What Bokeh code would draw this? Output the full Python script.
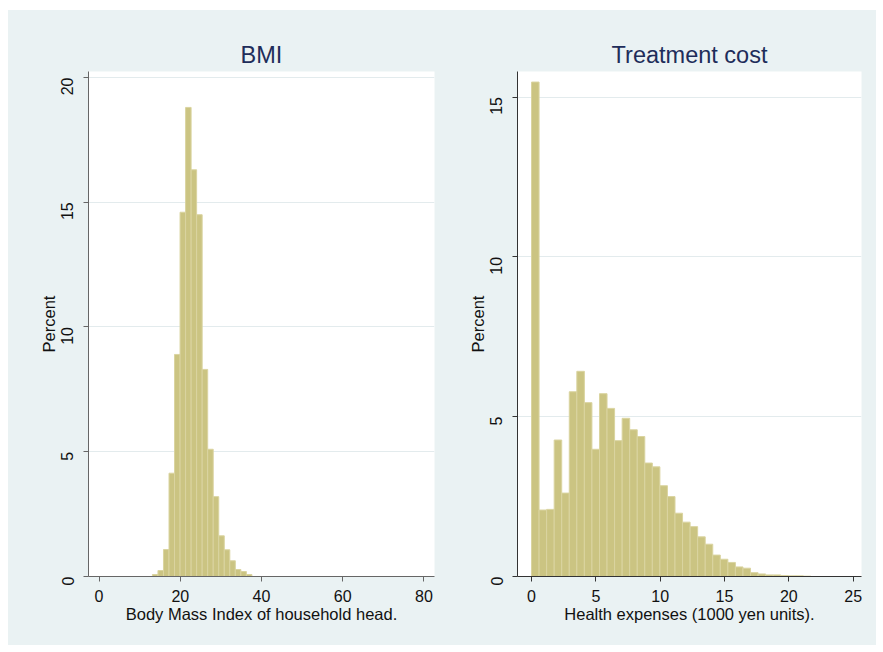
from bokeh.plotting import figure
from bokeh.layouts import row
from bokeh.models import FixedTicker, ColumnDataSource, Range1d
from bokeh.embed import file_html
from bokeh.resources import INLINE
import math

# ---- data (percent per histogram bin) ----
bmi_bin_start = 13.14
bmi_bin_width = 1.361
bmi_pct = [0.08, 0.24, 1.08, 4.14, 8.9, 14.6, 18.8, 16.3, 14.5, 8.3,
           5.1, 3.2, 1.63, 1.07, 0.63, 0.28, 0.2, 0.08]
bmi_xticks = [0, 20, 40, 60, 80]
bmi_yticks = [0, 5, 10, 15, 20]

cost_bin_start = 0.0
cost_bin_width = 0.587
cost_pct = [15.47, 2.08, 2.10, 4.27, 2.61, 5.78, 6.42, 5.44, 3.98, 5.72,
            5.26, 4.25, 4.95, 4.59, 4.38, 3.55, 3.43, 2.84, 2.50, 1.98,
            1.70, 1.56, 1.24, 1.01, 0.67, 0.54, 0.44, 0.30, 0.26, 0.12,
            0.08, 0.05, 0.05, 0.03, 0.02, 0.02, 0.01]
cost_xticks = [0, 5, 10, 15, 20, 25]
cost_yticks = [0, 5, 10, 15]

BG = "#eaf2f3"
BAR_FILL = "#cbc482"
BAR_LINE = "#dad4a0"
TITLE_COLOR = "#1e2d5a"
FONT = "Liberation Sans"


def hist_source(start, width, pct):
    left = [start + i * width for i in range(len(pct))]
    right = [l + width for l in left]
    return ColumnDataSource(dict(left=left, right=right, top=pct, bottom=[0] * len(pct)))


def make_panel(title, xlabel, src, xr, yr, xticks, yticks, lb, rb, fw, axcol):
    p = figure(title=title, output_backend="svg", toolbar_location=None,
               frame_width=fw, frame_height=505,
               min_border_left=lb, min_border_right=rb,
               min_border_top=61, min_border_bottom=69,
               x_range=Range1d(*xr), y_range=Range1d(*yr))
    p.border_fill_color = BG
    p.background_fill_color = "white"
    p.outline_line_color = None
    p.quad(left="left", right="right", top="top", bottom="bottom", source=src,
           fill_color=BAR_FILL, line_color=BAR_LINE, line_width=1)
    p.title.text_font = FONT
    p.title.text_font_size = "23.5px"
    p.title.text_font_style = "normal"
    p.title.text_color = TITLE_COLOR
    p.title.align = "center"
    p.title.standoff = 7

    p.xaxis.ticker = FixedTicker(ticks=xticks)
    p.yaxis.ticker = FixedTicker(ticks=yticks)
    p.xgrid.visible = False
    p.ygrid.grid_line_color = "#e3ebed"
    p.ygrid.grid_line_width = 1

    for ax in (p.xaxis[0], p.yaxis[0]):
        ax.axis_line_color = axcol
        ax.major_tick_line_color = axcol
        ax.major_tick_in = 0
        ax.major_tick_out = 5
        ax.minor_tick_line_color = None
        ax.major_label_text_font = FONT
        ax.major_label_text_font_size = "16px"
        ax.major_label_text_color = "#111111"
        ax.axis_label_text_font = FONT
        ax.axis_label_text_font_size = "16.5px"
        ax.axis_label_text_font_style = "normal"
        ax.axis_label_text_color = "#111111"

    p.xaxis.axis_label = xlabel
    p.yaxis.axis_label = "Percent"
    p.xaxis.major_label_standoff = 8
    p.xaxis.axis_label_standoff = 0
    p.yaxis.major_label_orientation = math.pi / 2
    p.yaxis.major_label_standoff = 16
    p.yaxis.axis_label_standoff = -5
    return p


p1 = make_panel("BMI", "Body Mass Index of household head.",
                hist_source(bmi_bin_start, bmi_bin_width, bmi_pct),
                (-2.6, 82.6), (0, 20.24), bmi_xticks, bmi_yticks, 80, 8, 346, "#666666")
p2 = make_panel("Treatment cost", "Health expenses (1000 yen units).",
                hist_source(cost_bin_start, cost_bin_width, cost_pct),
                (-1.09, 25.65), (0, 15.8), cost_xticks, cost_yticks, 75, 15, 344, "#333333")

layout = row(p1, p2, margin=(10, 7, 7, 8), styles={"background-color": BG})
open("out.html", "w").write(file_html(layout, INLINE))
